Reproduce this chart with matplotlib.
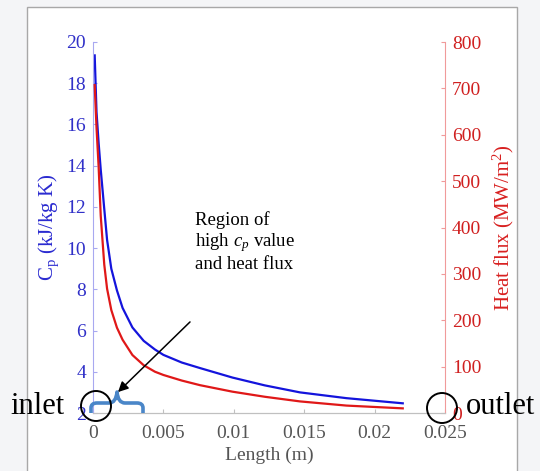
import numpy as np
import matplotlib
matplotlib.use('Agg')
import matplotlib.pyplot as plt
from matplotlib.patches import Circle, Rectangle, FancyArrowPatch, PathPatch
from matplotlib.path import Path

plt.rcParams['font.family'] = ['Liberation Serif', 'DejaVu Serif']
plt.rcParams['mathtext.fontset'] = 'custom'
plt.rcParams['mathtext.rm'] = 'Liberation Serif'
plt.rcParams['mathtext.it'] = 'Liberation Serif:italic'

# values
length = [0.00012, 0.00025, 0.0004, 0.00055, 0.0008, 0.001, 0.0013, 0.0017,
          0.0021, 0.0028, 0.0036, 0.0044, 0.005, 0.0063, 0.0076, 0.0099,
          0.0122, 0.0147, 0.018, 0.022]
cp = [19.35, 16.6, 15.1, 13.8, 11.9, 10.4, 9.0, 7.95,
      7.1, 6.15, 5.5, 5.08, 4.82, 4.45, 4.18, 3.72,
      3.34, 3.0, 2.72, 2.47]
heat_flux = [707, 615, 531, 425, 320, 268, 222, 184,
             158, 125, 103, 89, 82, 70, 60, 46,
             35, 25, 16, 10]

xticks = [0, 0.005, 0.01, 0.015, 0.02, 0.025]
xtick_labels = ['0', '0.005', '0.01', '0.015', '0.02', '0.025']
cp_ticks = list(range(2, 21, 2))
flux_ticks = list(range(0, 801, 100))

W, H = 540, 471
fig = plt.figure(figsize=(W / 100, H / 100), dpi=100, facecolor='#f4f5f7')

# white frame around the chart
fig.add_artist(Rectangle((27 / W, -0.01), 490 / W, (H - 7) / H + 0.01,
                         transform=fig.transFigure, facecolor='white',
                         edgecolor='#a8a8a8', lw=1, zorder=0))

ax = fig.add_axes([93 / W, 1 - 413 / H, 352 / W, 371 / H])
ax.set_facecolor('none')
ax2 = ax.twinx()

blue = '#1414dc'
red = '#e01818'
ax.plot(length, cp, color=blue, lw=1.6)
ax2.plot(length, heat_flux, color=red, lw=1.6)

ax.set_xlim(0, 0.025)
ax.set_ylim(2, 20)
ax2.set_ylim(0, 800)
ax.set_xticks(xticks)
ax.set_xticklabels(xtick_labels)
ax.set_yticks(cp_ticks)
ax2.set_yticks(flux_ticks)

for a in (ax, ax2):
    a.spines['top'].set_visible(False)
    a.spines['bottom'].set_color('#c0c0c0')
ax.spines['left'].set_color('#a8a8f0')
ax.spines['right'].set_visible(False)
ax2.spines['left'].set_visible(False)
ax2.spines['right'].set_color('#f09a9a')

ax.tick_params(axis='x', direction='in', length=3, colors='#c0c0c0',
               labelcolor='#555555', labelsize=14, pad=9)
ax.tick_params(axis='y', direction='in', length=3, colors='#a8a8f0',
               labelcolor='#3030c8', labelsize=14, pad=5)
ax2.tick_params(axis='y', direction='in', length=3, colors='#f09a9a',
                labelcolor='#d02020', labelsize=14, pad=5)

ax.set_xlabel('Length (m)', fontsize=14, color='#555555', labelpad=3)
ax.set_ylabel(r'C$_\mathrm{p}$ (kJ/kg K)', fontsize=15, color='#2a2ad0', labelpad=4)
ax2.set_ylabel(r'Heat flux (MW/m$^2$)', fontsize=15, color='#d82020', labelpad=7)

px = fig.dpi_scale_trans


def pt(x, y):
    return (x / 100, (H - y) / 100)


# circles at inlet and outlet
for cx, cy in [(96, 406), (442, 408)]:
    fig.add_artist(Circle(pt(cx, cy), 0.15, transform=px, fill=False,
                          edgecolor='black', lw=1.4, zorder=5))

fig.text(10 / W, 1 - 407 / H, 'inlet', fontsize=22, va='center', ha='left')
fig.text(466 / W, 1 - 407 / H, 'outlet', fontsize=22, va='center', ha='left')

# curly brace
verts = [pt(91, 413), pt(91, 408),
         pt(91, 403), pt(97, 403),
         pt(109, 403),
         pt(116, 403), pt(117, 392),
         pt(118, 403), pt(125, 403),
         pt(137, 403),
         pt(143, 403), pt(143, 408),
         pt(143, 413)]
codes = [Path.MOVETO, Path.LINETO,
         Path.CURVE3, Path.CURVE3,
         Path.LINETO,
         Path.CURVE3, Path.CURVE3,
         Path.CURVE3, Path.CURVE3,
         Path.LINETO,
         Path.CURVE3, Path.CURVE3,
         Path.LINETO]
fig.add_artist(PathPatch(Path(verts, codes), transform=px, fill=False,
                         edgecolor='#4a86c8', lw=2.6, capstyle='butt',
                         joinstyle='round', zorder=4))

# annotation arrow and text
fig.add_artist(FancyArrowPatch(pt(192, 320), pt(116, 394), transform=px,
                               arrowstyle='-|>', mutation_scale=15,
                               color='black', lw=1.1, zorder=6))
fig.text(195 / W, 1 - 269 / H, 'Region of\nhigh $c_p$ value\nand heat flux',
         fontsize=13.5, ha='left', va='baseline', linespacing=1.15)

fig.savefig('out.png', dpi=100, facecolor=fig.get_facecolor())
